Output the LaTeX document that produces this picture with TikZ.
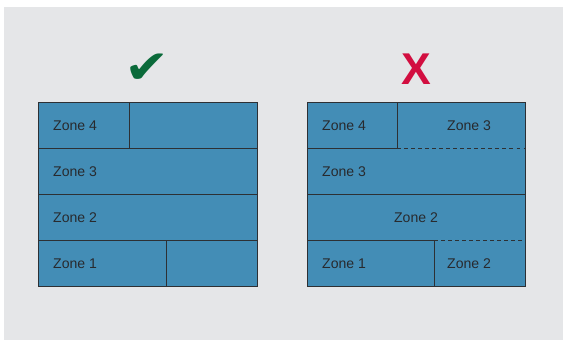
\documentclass[tikz,border=0pt]{standalone}
\usepackage{fontspec}
\setmainfont{Liberation Sans}
\newfontfamily\symfont{DejaVu Sans}

\begin{document}
\begin{tikzpicture}[x=0.03cm,y=-0.03cm,
    zone/.style={anchor=west,inner sep=0pt,text=zonetext,font=\fontsize{12}{14}\selectfont},
    grid/.style={draw=zoneline,line width=0.8pt},
    split/.style={draw=zoneline,line width=0.8pt,dash pattern=on 3.4pt off 2.6pt}]
\definecolor{bggray}{RGB}{229,230,232}
\definecolor{zoneblue}{RGB}{67,141,182}
\definecolor{zoneline}{RGB}{45,48,52}
\definecolor{zonetext}{RGB}{40,42,46}
\definecolor{okgreen}{RGB}{10,106,58}
\definecolor{badred}{RGB}{210,14,64}

\useasboundingbox (0,0) rectangle (563,340);
\fill[bggray] (4,7) rectangle (563,340);

% marks
\node[inner sep=0pt,text=okgreen,font=\symfont\fontsize{40}{40}\selectfont,xscale=1.15] (ok) at (147.5,69) {✔};
\node[inner sep=0pt,text=badred,font=\bfseries\fontsize{38}{38}\selectfont] (bad) at (416,69) {X};

% left grid (right way)
\fill[zoneblue] (38,102) rectangle (257,286);
\draw[grid] (38,102) rectangle (257,286);
\draw[grid] (38,148) -- (257,148);
\draw[grid] (38,194) -- (257,194);
\draw[grid] (38,240) -- (257,240);
\draw[grid] (129,102) -- (129,148);
\draw[grid] (166,240) -- (166,286);
\node[zone] (okfour) at (53,125.5) {Zone 4};
\node[zone] (okthree) at (53,171.5) {Zone 3};
\node[zone] (oktwo) at (53,217.5) {Zone 2};
\node[zone] (okone) at (53,263.5) {Zone 1};

% right grid (wrong way)
\fill[zoneblue] (307,102) rectangle (525,286);
\draw[grid] (307,102) rectangle (525,286);
\draw[grid] (307,148) -- (397,148);
\draw[split] (397,148) -- (525,148);
\draw[grid] (307,194) -- (525,194);
\draw[grid] (307,240) -- (434,240);
\draw[split] (434,240) -- (525,240);
\draw[grid] (397,102) -- (397,148);
\draw[grid] (434,240) -- (434,286);
\node[zone] (badfour) at (322,125.5) {Zone 4};
\node[zone] (badthreeb) at (447,125.5) {Zone 3};
\node[zone] (badthree) at (322,171.5) {Zone 3};
\node[zone,anchor=center] (badtwo) at (416,217.5) {Zone 2};
\node[zone] (badone) at (322,263.5) {Zone 1};
\node[zone] (badtwob) at (447,263.5) {Zone 2};

\end{tikzpicture}
\end{document}
